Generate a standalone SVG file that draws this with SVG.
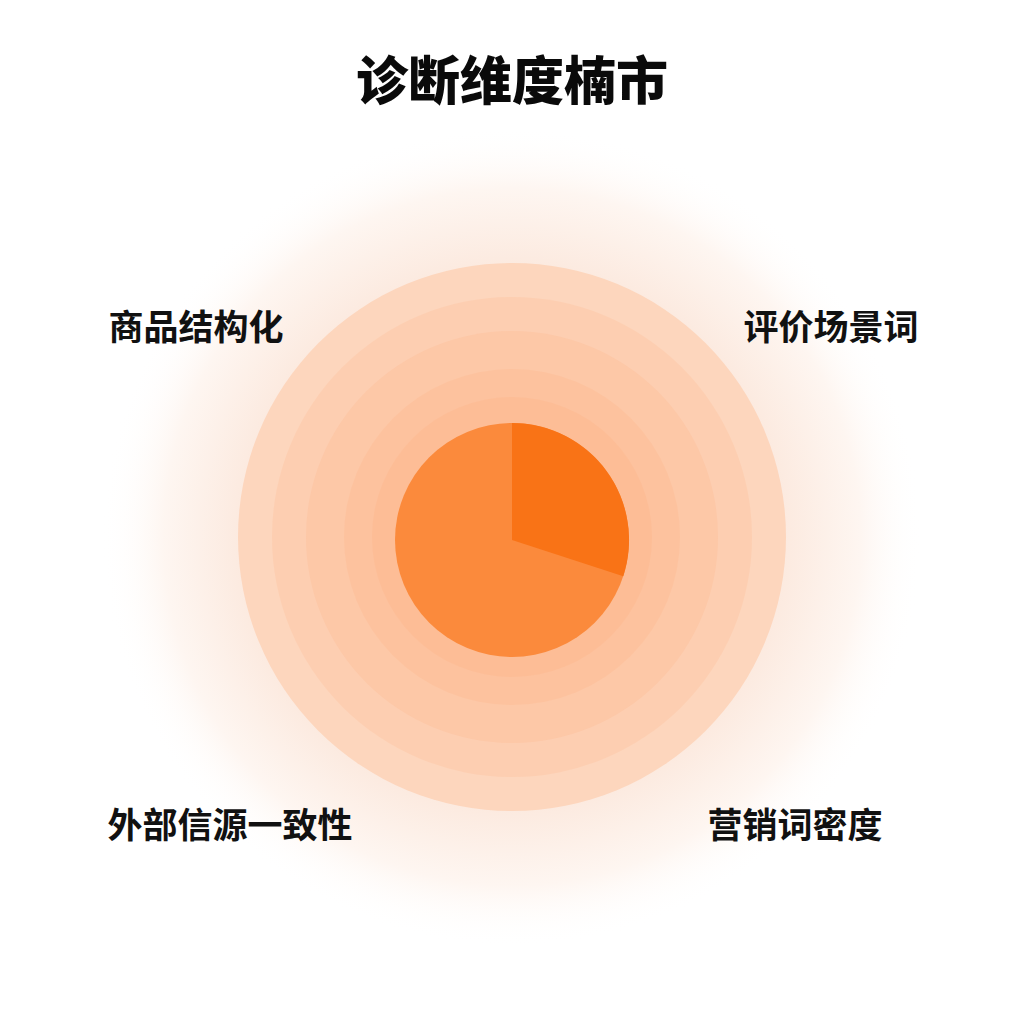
<svg xmlns="http://www.w3.org/2000/svg" width="1024" height="1024" viewBox="0 0 1024 1024">
  <defs>
    <radialGradient id="glow" cx="512" cy="537" r="410" gradientUnits="userSpaceOnUse">
      <stop offset="0.6" stop-color="#fbe6d9"/>
      <stop offset="0.68" stop-color="#fcebe1"/>
      <stop offset="0.85" stop-color="#fef6f1"/>
      <stop offset="1" stop-color="#ffffff" stop-opacity="0"/>
    </radialGradient>
    <style>
      .ring { fill: #fca46a; fill-opacity: 0.14; }
      .lbl { font-family: "Noto Sans CJK SC", "Noto Sans", sans-serif; font-weight: 700; font-size: 35px; fill: #111111; }
      .title { font-family: "Noto Sans CJK SC", "Noto Sans", sans-serif; font-weight: 900; font-size: 52px; fill: #0a0a0a; }
    </style>
  </defs>
  <rect width="1024" height="1024" fill="#ffffff"/>
  <g id="background">
    <circle cx="512" cy="537" r="410" fill="url(#glow)"/>
    <circle cx="512" cy="537" r="274" fill="#fdd6bd"/>
    <circle class="ring" cx="512" cy="537" r="240"/>
    <circle class="ring" cx="512" cy="537" r="206"/>
    <circle class="ring" cx="512" cy="537" r="168"/>
    <circle class="ring" cx="512" cy="537" r="140"/>
  </g>
  <g id="pie">
    <circle cx="512" cy="540" r="117" fill="#fb8a3c"/>
    <path d="M512,540 L512,423 A117,117 0 0 1 623.3,576.2 Z" fill="#f97316"/>
  </g>
  <g id="title">
    <text class="title" x="512" y="100" text-anchor="middle">诊断维度楠市</text>
  </g>
  <g id="node-tl">
    <text class="lbl" x="196" y="340" text-anchor="middle">商品结构化</text>
  </g>
  <g id="node-tr">
    <text class="lbl" x="831" y="340" text-anchor="middle">评价场景词</text>
  </g>
  <g id="node-bl">
    <text class="lbl" x="230" y="838" text-anchor="middle">外部信源一致性</text>
  </g>
  <g id="node-br">
    <text class="lbl" x="795" y="838" text-anchor="middle">营销词密度</text>
  </g>
  <g id="connectors"></g>
</svg>
